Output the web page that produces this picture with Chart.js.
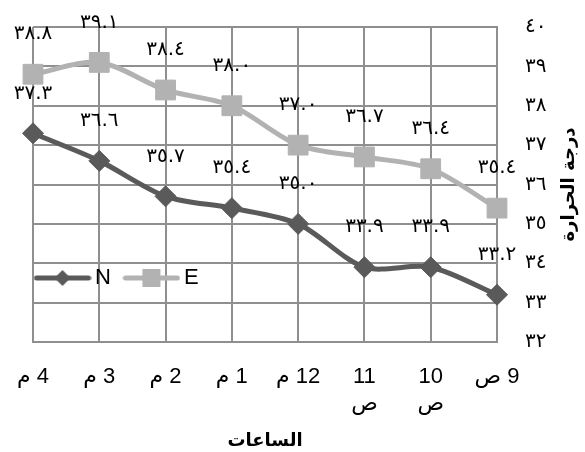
<!DOCTYPE html>
<html>
<head>
<meta charset="utf-8">
<script src="https://cdn.jsdelivr.net/npm/chart.js@4.4.0/dist/chart.umd.min.js"></script>
<style>
    html, body { margin: 0; padding: 0; background: #fff; }
    #wrap { width: 585px; height: 452px; }
</style>
</head>
<body>
<div id="wrap"><canvas id="tempChart" dir="rtl"></canvas></div>
<script>
// Hours (drawn right to left)
const hours = ['9 ص', ['10', 'ص'], ['11', 'ص'], '12 م', '1 م', '2 م', '3 م', '4 م'];
const seriesN = [33.2, 33.9, 33.9, 35.0, 35.4, 35.7, 36.6, 37.3];
const seriesE = [35.4, 36.4, 36.7, 37.0, 38.0, 38.4, 39.1, 38.8];
const yTicks = [32, 33, 34, 35, 36, 37, 38, 39, 40];
const yTitle = 'درجة الحرارة';
const xTitle = 'الساعات';

const darkGray = '#5a5a5a';
const lightGray = '#b2b2b2';
const gridGray = '#8f8f8f';
const arabicFont = '"DejaVu Sans"';

function toArabicDigits(str) {
    return String(str).replace(/[0-9]/g, d => '٠١٢٣٤٥٦٧٨٩'[d]);
}

// Legend icon: short line with the marker in the middle (Excel style)
function legendIcon(color, shape) {
    const c = document.createElement('canvas');
    c.width = 58;
    c.height = 20;
    const g = c.getContext('2d');
    g.strokeStyle = color;
    g.lineWidth = 5;
    g.lineCap = 'round';
    g.beginPath();
    g.moveTo(3, 10);
    g.lineTo(55, 10);
    g.stroke();
    g.fillStyle = color;
    g.beginPath();
    if (shape === 'diamond') {
        g.moveTo(29, 2); g.lineTo(37, 10); g.lineTo(29, 18); g.lineTo(21, 10); g.closePath();
    } else {
        g.rect(20, 1, 18, 18);
    }
    g.fill();
    return c;
}
const legendIcons = [legendIcon(darkGray, 'diamond'), legendIcon(lightGray, 'square')];

// Values written above each point
const valueLabels = {
    id: 'valueLabels',
    afterDatasetsDraw(chart) {
        const ctx = chart.ctx;
        ctx.save();
        ctx.font = '20px ' + arabicFont;
        ctx.fillStyle = '#000';
        ctx.textAlign = 'center';
        ctx.textBaseline = 'middle';
        chart.data.datasets.forEach((ds, i) => {
            chart.getDatasetMeta(i).data.forEach((pt, j) => {
                ctx.fillText(toArabicDigits(ds.data[j].toFixed(1)), pt.x, pt.y - 40);
            });
        });
        ctx.restore();
    }
};

const sideTitle = {
    id: 'sideTitle',
    afterDraw(chart) {
        const s = chart.scales.y;
        const ctx = chart.ctx;
        ctx.save();
        ctx.translate(s.right - 14, (s.top + s.bottom) / 2);
        ctx.rotate(-Math.PI / 2);
        ctx.font = 'bold 18px ' + arabicFont;
        ctx.fillStyle = '#000';
        ctx.textAlign = 'center';
        ctx.textBaseline = 'middle';
        ctx.fillText(yTitle, 0, 0);
        ctx.restore();
    }
};

// Put the legend inside the plot area, lower left
const innerLegend = {
    id: 'innerLegend',
    beforeLayout(chart) {
        const legend = chart.legend;
        if (legend && !legend._innerFit) {
            const fit = legend.fit;
            legend.fit = function () { fit.call(this); this.height = 0; };
            legend._innerFit = true;
        }
    },
    afterLayout(chart) {
        const legend = chart.legend;
        const area = chart.chartArea;
        legend.left = area.left - 11;
        legend.top = area.bottom - 94;
        legend.width = 300;
        legend.height = 70;
        legend.right = legend.left + legend.width;
        legend.bottom = legend.top + legend.height;
    }
};

new Chart(document.getElementById('tempChart'), {
    type: 'line',
    data: {
        labels: hours,
        datasets: [
            {
                label: 'N',
                data: seriesN,
                borderColor: darkGray,
                backgroundColor: darkGray,
                borderWidth: 5,
                tension: 0.3,
                pointStyle: 'rectRot',
                pointRadius: 10.5,
                pointBackgroundColor: darkGray,
                pointBorderColor: darkGray,
                pointBorderWidth: 1
            },
            {
                label: 'E',
                data: seriesE,
                borderColor: lightGray,
                backgroundColor: lightGray,
                borderWidth: 5,
                tension: 0.3,
                pointStyle: 'rect',
                pointRadius: 14,
                pointBackgroundColor: lightGray,
                pointBorderColor: lightGray,
                pointBorderWidth: 1
            }
        ]
    },
    options: {
        responsive: true,
        maintainAspectRatio: false,
        animation: false,
        layout: {
            padding: { left: 33, top: 27, right: 2, bottom: 0 }
        },
        plugins: {
            tooltip: { enabled: false },
            legend: {
                position: 'top',
                align: 'start',
                labels: {
                    usePointStyle: true,
                    pointStyleWidth: 43,
                    padding: 19,
                    color: '#000',
                    font: { family: '"Liberation Sans Narrow", "Liberation Sans"', size: 22 },
                    generateLabels(chart) {
                        const items = Chart.defaults.plugins.legend.labels.generateLabels(chart);
                        items.forEach((it, i) => { it.pointStyle = legendIcons[i]; });
                        return items;
                    }
                }
            }
        },
        scales: {
            x: {
                reverse: true,
                offset: false,
                afterFit: s => { s.height = 110; },
                ticks: {
                    color: '#000',
                    font: { family: '"Liberation Sans", ' + arabicFont, size: 22 },
                    padding: 2,
                    maxRotation: 0,
                    autoSkip: false
                },
                grid: { color: gridGray, lineWidth: 2, tickLength: 20, tickColor: 'rgba(0,0,0,0)' },
                border: { color: gridGray, width: 2 },
                title: {
                    display: true,
                    text: xTitle,
                    color: '#000',
                    font: { family: arabicFont, size: 18, weight: 'bold' },
                    padding: { top: 4, bottom: 0 }
                }
            },
            y: {
                position: 'right',
                min: 32,
                max: 40,
                afterFit: s => { s.width = 86; },
                afterBuildTicks: s => { s.ticks = yTicks.map(v => ({ value: v })); },
                ticks: {
                    callback: v => toArabicDigits(v),
                    padding: 3,
                    color: '#000',
                    font: { family: arabicFont, size: 20 }
                },
                grid: { color: gridGray, lineWidth: 2, tickLength: 25, tickColor: 'rgba(0,0,0,0)' },
                border: { color: gridGray, width: 2 }
            }
        }
    },
    plugins: [valueLabels, sideTitle, innerLegend]
});
</script>
</body>
</html>
